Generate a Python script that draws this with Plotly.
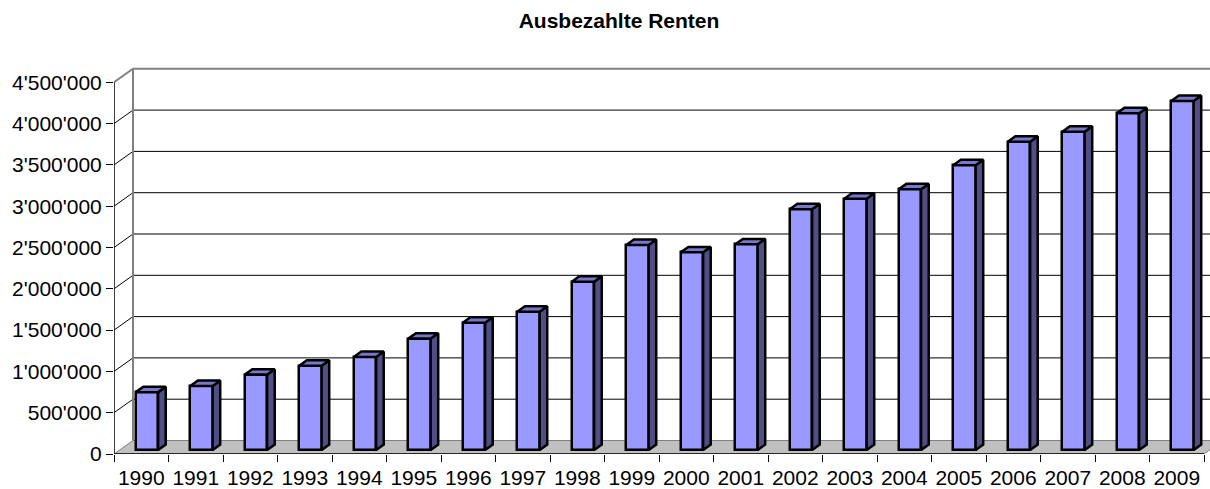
import plotly.graph_objects as go

# ---- data ----
years = ["1990", "1991", "1992", "1993", "1994", "1995", "1996", "1997", "1998", "1999",
         "2000", "2001", "2002", "2003", "2004", "2005", "2006", "2007", "2008", "2009"]
renten = [700000, 775000, 912000, 1020000, 1126000, 1348000, 1541000, 1674000, 2037000, 2482000,
          2393000, 2490000, 2914000, 3042000, 3156000, 3447000, 3732000, 3853000, 4076000, 4225000]
y_tickvals = [0, 500000, 1000000, 1500000, 2000000, 2500000, 3000000, 3500000, 4000000, 4500000]
y_ticktext = ["0", "500'000", "1'000'000", "1'500'000", "2'000'000", "2'500'000",
              "3'000'000", "3'500'000", "4'000'000", "4'500'000"]
title = "Ausbezahlte Renten"

# ---- pseudo-3D geometry (in axis units) ----
W, H = 1210, 489
L, R, T, B = 114, 0, 67, 35
px_per_cat = 54.5
px_per_val = 82.6 / 1e6
xmax = (W - L - R) / px_per_cat
ymax = (H - T - B) / px_per_val
OX = 19 / px_per_cat          # full depth offset, x
OY = 13.5 / px_per_val        # full depth offset, y
f, d = 0.3, 0.4               # bar front position / bar depth (fraction of depth)
bw = 0.41
n = len(years)
vmax = y_tickvals[-1]

FRONT = "#9999FF"
SIDE = "#4F4F86"
TOP = "#7777CC"
LW = 2.5

fig = go.Figure()

base = f * OY
xc = [i + 0.5 + f * OX for i in range(n)]
fig.add_trace(go.Bar(x=xc, y=renten, base=[base] * n, width=bw,
                     marker=dict(color=FRONT, line=dict(color="black", width=LW)),
                     hoverinfo="skip", showlegend=False))

for i, v in enumerate(renten):
    xl = xc[i] - bw / 2
    xr = xc[i] + bw / 2
    top = base + v
    # side face
    fig.add_trace(go.Scatter(
        x=[xr, xr + d * OX, xr + d * OX, xr, xr],
        y=[base, base + d * OY, top + d * OY, top, base],
        mode="lines", fill="toself", fillcolor=SIDE,
        line=dict(color="black", width=LW), hoverinfo="skip", showlegend=False))
    # top face
    fig.add_trace(go.Scatter(
        x=[xl, xr, xr + d * OX, xl + d * OX, xl],
        y=[top, top, top + d * OY, top + d * OY, top],
        mode="lines", fill="toself", fillcolor=TOP,
        line=dict(color="black", width=LW), hoverinfo="skip", showlegend=False))

shapes = []
# floor
shapes.append(dict(type="path", xref="x", yref="y", layer="below",
                   path=f"M 0 0 L {n} 0 L {n + OX} {OY} L {OX} {OY} Z",
                   fillcolor="#C0C0C0", line=dict(color="#808080", width=1)))
# back wall gridlines and diagonals
for v in y_tickvals[1:]:
    last = v == vmax
    col = "#808080" if last else "black"
    wid = 2 if last else 1
    shapes.append(dict(type="line", xref="x", yref="y", layer="below",
                       x0=OX, y0=v + OY, x1=xmax + 1, y1=v + OY,
                       line=dict(color=col, width=wid)))
    shapes.append(dict(type="line", xref="x", yref="y", layer="below",
                       x0=0, y0=v, x1=OX, y1=v + OY,
                       line=dict(color=col, width=wid)))
# back wall left edge
shapes.append(dict(type="line", xref="x", yref="y", layer="below",
                   x0=OX, y0=OY, x1=OX, y1=vmax + OY,
                   line=dict(color="#808080", width=2)))
# front axes
shapes.append(dict(type="line", xref="x", yref="y", layer="below",
                   x0=0, y0=0, x1=0, y1=vmax, line=dict(color="black", width=1.5)))
shapes.append(dict(type="line", xref="x", yref="y", layer="below",
                   x0=0, y0=0, x1=n, y1=0, line=dict(color="black", width=1.5)))

font_family = "Arial, Liberation Sans, sans-serif"
fig.update_layout(
    width=W, height=H,
    margin=dict(l=L, r=R, t=T, b=B, autoexpand=False),
    paper_bgcolor="white", plot_bgcolor="white",
    shapes=shapes,
    bargap=0,
    font=dict(family=font_family, color="black", size=21),
    title=dict(text=f"<b>{title}</b>", x=619 / W, xanchor="center",
               y=1 - 21 / H, yanchor="middle",
               font=dict(family=font_family, size=21, color="black")),
    xaxis=dict(range=[0, xmax], tickmode="array",
               tickvals=[i + 0.5 for i in range(n)], ticktext=years,
               ticks="", showgrid=False, zeroline=False, showline=False,
               ticklabelstandoff=9, automargin=False,
               tickfont=dict(size=21, family=font_family, color="black"),
               minor=dict(tickmode="linear", tick0=0, dtick=1, ticks="outside",
                          ticklen=7, tickcolor="black", tickwidth=1, showgrid=False)),
    yaxis=dict(range=[0, ymax], tickmode="array", tickvals=y_tickvals, ticktext=y_ticktext,
               ticks="outside", ticklen=7, tickcolor="black", tickwidth=1,
               showgrid=False, zeroline=False, showline=False, automargin=False,
               tickfont=dict(size=21, family=font_family, color="black")),
)

fig.write_html("out.html", config={"displayModeBar": False},
               post_script="document.body.style.margin='0';document.body.style.overflow='hidden';")
